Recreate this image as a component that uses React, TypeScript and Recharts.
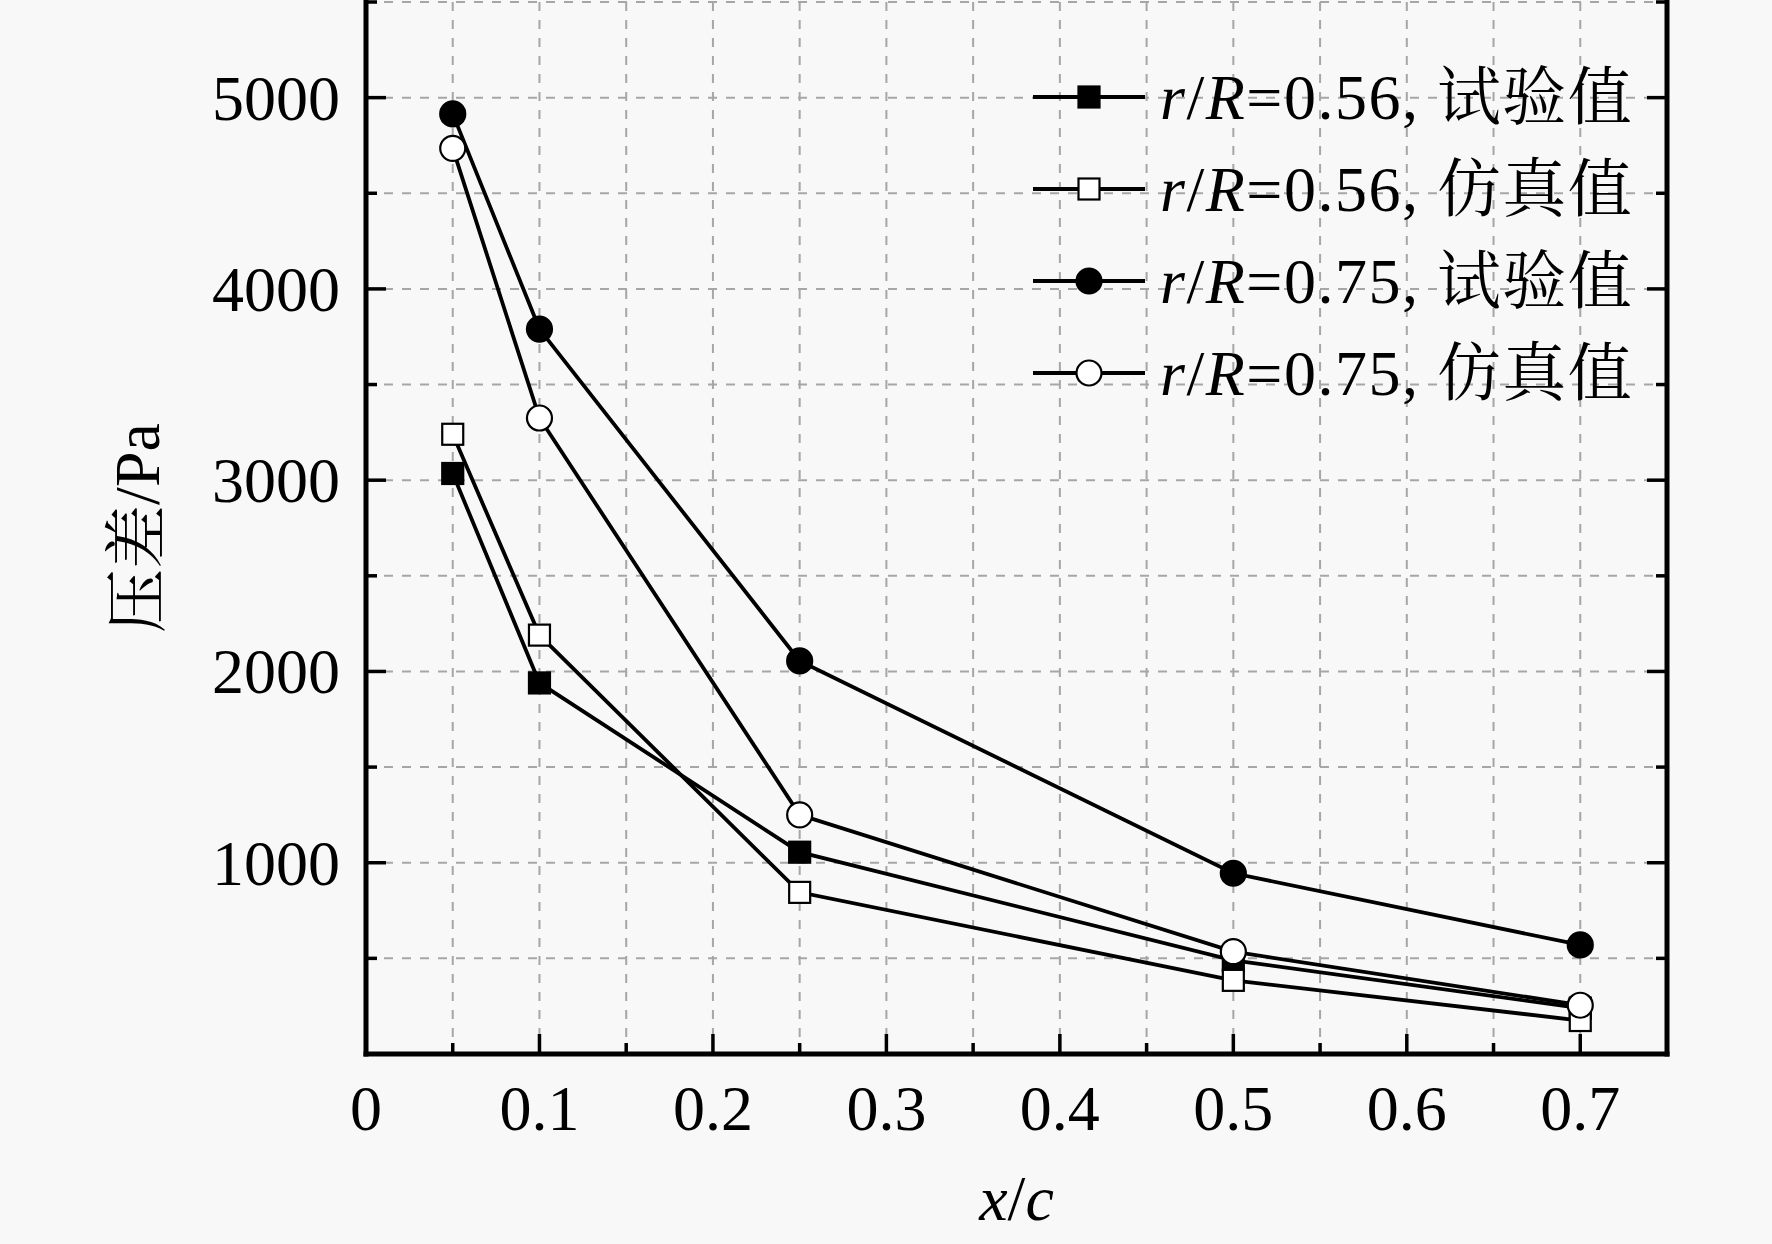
import React from 'react';
import { LineChart, Line, XAxis, YAxis, CartesianGrid, Legend } from 'recharts';

// ---- data ----
const X_VALUES = [0.05, 0.1, 0.25, 0.5, 0.7];
const EXP_056 = [3035, 1940, 1055, 490, 240];
const SIM_056 = [3240, 2190, 845, 385, 175];
const EXP_075 = [4915, 3790, 2055, 945, 570];
const SIM_075 = [4735, 3325, 1250, 535, 255];

const X_TICKS = [0, 0.05, 0.1, 0.15, 0.2, 0.25, 0.3, 0.35, 0.4, 0.45, 0.5, 0.55, 0.6, 0.65, 0.7, 0.75];
const X_TICK_LABELS = ['0', '', '0.1', '', '0.2', '', '0.3', '', '0.4', '', '0.5', '', '0.6', '', '0.7', ''];
const Y_TICKS = [0, 500, 1000, 1500, 2000, 2500, 3000, 3500, 4000, 4500, 5000, 5500];
const Y_TICK_LABELS = ['', '', '1000', '', '2000', '', '3000', '', '4000', '', '5000', ''];

const SERIES_RATIOS = ['0.56', '0.56', '0.75', '0.75'];
const SERIES_KINDS = ['试验值', '仿真值', '试验值', '仿真值'];
const SERIES_VALUES = [EXP_056, SIM_056, EXP_075, SIM_075];
const SERIES_SHAPES = ['square', 'square', 'circle', 'circle'];
const SERIES_FILLS = ['#000', '#fff', '#000', '#fff'];

const FONT = "'Liberation Serif', 'Times New Roman', 'Noto Serif CJK SC', 'Noto Sans CJK SC', serif";
const FS = 64;
const BG = '#f8f8f8';
const LW = 3.8;

const findIndex = (arr: number[], v: number) => arr.findIndex((a) => Math.abs(a - v) < 1e-9);

const Marker = ({ shape, fill, cx, cy }: { shape: string; fill: string; cx: number; cy: number }) =>
  shape === 'square' ? (
    <rect x={cx - 10.5} y={cy - 10.5} width={21} height={21} fill={fill} stroke="#000" strokeWidth={2.2} />
  ) : (
    <circle cx={cx} cy={cy} r={12.5} fill={fill} stroke="#000" strokeWidth={2.2} />
  );

const makeDot = (shape: string, fill: string) => (props: any) => {
  const { cx, cy, index } = props;
  if (cx == null || cy == null) return <g key={`d-${index}`} />;
  return (
    <g key={`d-${index}`}>
      <Marker shape={shape} fill={fill} cx={cx} cy={cy} />
    </g>
  );
};

const MAJOR = 20;
const MINOR = 11;
const TW = 3.5;

const BottomTick = (props: any) => {
  const { x, y, payload } = props;
  const i = findIndex(X_TICKS, payload.value);
  const len = i % 2 === 0 ? MAJOR : MINOR;
  const label = X_TICK_LABELS[i];
  return (
    <g>
      <line x1={x} x2={x} y1={y} y2={y - len} stroke="#000" strokeWidth={TW} />
      {label ? (
        <text x={x} y={y + 76} textAnchor="middle" fontFamily={FONT} fontSize={FS} fill="#000">
          {label}
        </text>
      ) : null}
    </g>
  );
};

const TopTick = (props: any) => {
  const { x, y, payload } = props;
  const i = findIndex(X_TICKS, payload.value);
  const len = i % 2 === 0 ? MAJOR : MINOR;
  return <line x1={x} x2={x} y1={y} y2={y + len} stroke="#000" strokeWidth={TW} />;
};

const LeftTick = (props: any) => {
  const { x, y, payload } = props;
  const i = findIndex(Y_TICKS, payload.value);
  const len = i % 2 === 0 ? MAJOR : MINOR;
  const label = Y_TICK_LABELS[i];
  return (
    <g>
      <line x1={x} x2={x + len} y1={y} y2={y} stroke="#000" strokeWidth={TW} />
      {label ? (
        <text x={x - 26} y={y + 22} textAnchor="end" fontFamily={FONT} fontSize={FS} fill="#000">
          {label}
        </text>
      ) : null}
    </g>
  );
};

const RightTick = (props: any) => {
  const { x, y, payload } = props;
  const i = findIndex(Y_TICKS, payload.value);
  const len = i % 2 === 0 ? MAJOR : MINOR;
  return <line x1={x} x2={x - len} y1={y} y2={y} stroke="#000" strokeWidth={TW} />;
};

const yLabel = (props: any) => {
  const vb = props.viewBox || {};
  const cx = (vb.x ?? 0) + 137;
  const cy = (vb.y ?? 0) + (vb.height ?? 0) / 2;
  return (
    <text
      x={cx}
      y={cy}
      transform={`rotate(-90 ${cx} ${cy})`}
      textAnchor="middle"
      dominantBaseline="central"
      fontFamily={FONT}
      fontSize={FS}
      fill="#000"
    >
      压差/Pa
    </text>
  );
};

const xLabel = (props: any) => {
  const vb = props.viewBox || {};
  const cx = (vb.x ?? 0) + (vb.width ?? 0) / 2;
  const cy = (vb.y ?? 0) + 166;
  return (
    <text x={cx} y={cy} textAnchor="middle" fontFamily={FONT} fontSize={FS} fill="#000">
      <tspan fontStyle="italic">x</tspan>
      <tspan>/</tspan>
      <tspan fontStyle="italic">c</tspan>
    </text>
  );
};

const renderLegend = () => (
  <div style={{ display: 'flex', flexDirection: 'column' }}>
    {SERIES_VALUES.map((_, i) => (
      <svg key={i} width={660} height={92} style={{ display: 'block', overflow: 'visible' }}>
        <line x1={0} x2={112} y1={46} y2={46} stroke="#000" strokeWidth={LW} />
        <Marker shape={SERIES_SHAPES[i]} fill={SERIES_FILLS[i]} cx={56} cy={46} />
        <text x={127} y={68} fontFamily={FONT} fontSize={FS} fill="#000" letterSpacing={1.5}>
          <tspan fontStyle="italic">r</tspan>
          <tspan>/</tspan>
          <tspan fontStyle="italic">R</tspan>
          <tspan>{`=${SERIES_RATIOS[i]}, ${SERIES_KINDS[i]}`}</tspan>
        </text>
      </svg>
    ))}
  </div>
);

const frame = { stroke: '#000', strokeWidth: 5, strokeLinecap: 'square' as const };

export default function App() {
  return (
    <div style={{ position: 'absolute', left: 0, top: 0, width: 1772, height: 1244, background: BG }}>
      <LineChart width={1772} height={1244} margin={{ top: 2, right: 0, bottom: 0, left: 0 }}>
        <CartesianGrid
          xAxisId="bottom"
          yAxisId="left"
          stroke="#a6a6a6"
          strokeWidth={2}
          strokeDasharray="9 9"
        />
        <XAxis
          xAxisId="bottom"
          dataKey="x"
          type="number"
          domain={[0, 0.75]}
          ticks={X_TICKS}
          interval={0}
          height={190}
          tickSize={0}
          tickMargin={0}
          tickLine={false}
          axisLine={frame}
          tick={BottomTick}
          allowDataOverflow
          label={xLabel}
        />
        <XAxis
          xAxisId="top"
          orientation="top"
          type="number"
          domain={[0, 0.75]}
          ticks={X_TICKS}
          interval={0}
          height={0}
          tickSize={0}
          tickMargin={0}
          tickLine={false}
          axisLine={frame}
          tick={TopTick}
          allowDataOverflow
        />
        <YAxis
          yAxisId="left"
          type="number"
          domain={[0, 5500]}
          ticks={Y_TICKS}
          interval={0}
          width={366}
          tickSize={0}
          tickMargin={0}
          tickLine={false}
          axisLine={frame}
          tick={LeftTick}
          allowDataOverflow
          label={yLabel}
        />
        <YAxis
          yAxisId="right"
          orientation="right"
          type="number"
          domain={[0, 5500]}
          ticks={Y_TICKS}
          interval={0}
          width={105}
          tickSize={0}
          tickMargin={0}
          tickLine={false}
          axisLine={frame}
          tick={RightTick}
          allowDataOverflow
        />
        {SERIES_VALUES.map((vals, i) => (
          <Line
            key={i}
            xAxisId="bottom"
            yAxisId="left"
            data={X_VALUES.map((x, j) => ({ x, y: vals[j] }))}
            dataKey="y"
            name={`r/R=${SERIES_RATIOS[i]}, ${SERIES_KINDS[i]}`}
            type="linear"
            stroke="#000"
            strokeWidth={LW}
            dot={makeDot(SERIES_SHAPES[i], SERIES_FILLS[i])}
            activeDot={false}
            isAnimationActive={false}
          />
        ))}
        <Legend
          layout="vertical"
          align="center"
          verticalAlign="middle"
          content={renderLegend}
          wrapperStyle={{ left: 1033, top: 51, width: 660, height: 368 }}
        />
      </LineChart>
    </div>
  );
}
